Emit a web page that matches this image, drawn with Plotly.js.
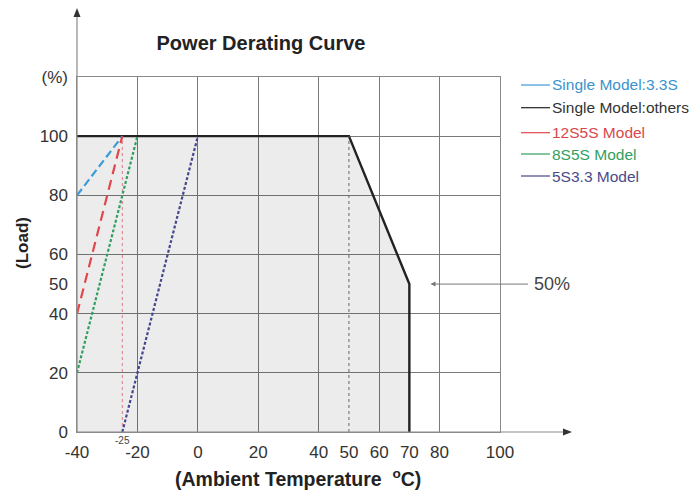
<!DOCTYPE html>
<html>
<head>
<meta charset="utf-8">
<script src="https://cdn.plot.ly/plotly-3.0.1.min.js"></script>
<style>html,body{margin:0;padding:0;background:#fff;}#chart{width:699px;height:493px;}</style>
</head>
<body>
<div id="chart"></div>
<script>
// ---- data ----
const seriesNames = ["Single Model:3.3S", "Single Model:others", "12S5S Model", "8S5S Model", "5S3.3 Model"];
const blueX = [-40, -25];       const blueY = [80, 100];
const blackX = [-40, 50, 70, 70]; const blackY = [100, 100, 50, 0];
const redX = [-40, -25];        const redY = [40, 100];
const greenX = [-40, -20];      const greenY = [20, 100];
const navyX = [-25, 0];         const navyY = [0, 100];
const refRedX = [-25, -25];     const refRedY = [0, 100];
const ref50X = [50, 50];        const ref50Y = [0, 100];
const xTickVals = [-40, -20, 0, 20, 40, 50, 60, 70, 80, 100];
const xTickText = ["-40", "-20", "0", "20", "40", "50", "60", "70", "80", "100"];
const yTickVals = [0, 20, 40, 50, 60, 80, 100, 120];
const yTickText = ["0", "20", "40", "50", "60", "80", "100", "(%)"];
const xGridVals = [-40, -20, 0, 20, 40, 60, 80, 100];
const yGridVals = [0, 20, 40, 60, 80, 100, 120];
const xRange = [-40, 100];
const yRange = [0, 120];

const FONT = "Liberation Sans, Arial, Helvetica, sans-serif";
const colors = ["#3d9bd6", "#222222", "#e0474c", "#2f9e5e", "#46468c"];
const textColors = ["#3a93cc", "#333333", "#d9474a", "#33a060", "#4a4a8a"];

const traces = [
  {x: blackX, y: blackY, mode: "lines", fill: "tozeroy", fillcolor: "rgba(0,0,0,0.075)",
   line: {color: colors[1], width: 2.4}, name: seriesNames[1], showlegend: false, hoverinfo: "skip"},
  {x: refRedX, y: refRedY, mode: "lines", line: {color: "#e07a8a", width: 1, dash: "dot"}, showlegend: false, hoverinfo: "skip"},
  {x: ref50X, y: ref50Y, mode: "lines", line: {color: "#666", width: 1, dash: "dot"}, showlegend: false, hoverinfo: "skip"},
  {x: blueX, y: blueY, mode: "lines", line: {color: colors[0], width: 2.2, dash: "8px,4px"}, name: seriesNames[0], showlegend: false},
  {x: redX, y: redY, mode: "lines", line: {color: colors[2], width: 2.2, dash: "10px,6px"}, name: seriesNames[2], showlegend: false},
  {x: greenX, y: greenY, mode: "lines", line: {color: colors[3], width: 2.2, dash: "3px,2px"}, name: seriesNames[3], showlegend: false},
  {x: navyX, y: navyY, mode: "lines", line: {color: colors[4], width: 2.2, dash: "3px,2px"}, name: seriesNames[4], showlegend: false},
  {x: [], y: [], xaxis: "x2", yaxis: "y2", showlegend: false, hoverinfo: "skip"}
];

// plot-area pixel helpers (plot area: left 77, top 77, 423 x 355)
const PL = 77, PT = 77, PW = 423, PH = 355;
const px = v => (v - PL) / PW;
const py = v => (PT + PH - v) / PH;

const annotations = [];
const shapes = [];
// axis arrows (lines + heads)
shapes.push({type: "line", xref: "paper", yref: "paper", x0: 0, x1: px(566), y0: 0, y1: 0, line: {color: "#8a8a8a", width: 1.2}});
shapes.push({type: "path", xref: "paper", yref: "paper", fillcolor: "#333", line: {width: 0},
  path: `M ${px(572)} ${py(432)} L ${px(563)} ${py(428.5)} L ${px(563)} ${py(435.5)} Z`});
shapes.push({type: "line", xref: "paper", yref: "paper", x0: 0, x1: 0, y0: 0, y1: py(14), line: {color: "#8a8a8a", width: 1.2}});
shapes.push({type: "path", xref: "paper", yref: "paper", fillcolor: "#333", line: {width: 0},
  path: `M ${px(77)} ${py(8)} L ${px(73.5)} ${py(17)} L ${px(80.5)} ${py(17)} Z`});
// 50% pointer with label
annotations.push({xref: "x", yref: "y", x: 77, y: 50, ax: 121, ay: 0, axref: "pixel", ayref: "pixel",
  text: "50%", showarrow: true, arrowhead: 2, arrowsize: 1, arrowwidth: 1, arrowcolor: "#777", standoff: 0,
  borderpad: 5, font: {family: FONT, size: 18, color: "#444"}});
// -25 label
annotations.push({xref: "x", yref: "paper", x: -25, y: py(440), text: "-25", showarrow: false,
  xanchor: "center", yanchor: "middle", font: {family: FONT, size: 10, color: "#444"}});
// axis titles
annotations.push({xref: "paper", yref: "paper", x: px(298), y: py(478), text: "(Ambient Temperature  <sup>o</sup>C)", showarrow: false,
  xanchor: "center", yanchor: "middle", font: {family: FONT, size: 19.5, color: "#222", weight: "bold"}});
annotations.push({xref: "paper", yref: "paper", x: px(22), y: py(243), text: "(Load)", textangle: -90, showarrow: false,
  xanchor: "center", yanchor: "middle", font: {family: FONT, size: 17, color: "#222", weight: "bold"}});
// legend
const legPix = [85, 107.7, 132.7, 154, 176];
seriesNames.forEach((nm, i) => {
  shapes.push({type: "line", xref: "paper", yref: "paper", x0: px(521), x1: px(550), y0: py(legPix[i]), y1: py(legPix[i]),
    line: {color: colors[i], width: 1.2}});
  annotations.push({xref: "paper", yref: "paper", x: px(550), y: py(legPix[i]), text: nm, showarrow: false,
    xanchor: "left", yanchor: "middle", font: {family: FONT, size: 15.5, color: textColors[i]}});
});

const layout = {
  width: 699, height: 493,
  margin: {l: 77, r: 199, t: 77, b: 61},
  paper_bgcolor: "#fff", plot_bgcolor: "#fff",
  showlegend: false,
  title: {text: "<b>Power Derating Curve</b>", xref: "paper", x: px(261), xanchor: "center",
    yref: "container", y: 1 - 43 / 493, yanchor: "middle", font: {family: FONT, size: 20, color: "#222"}},
  xaxis: {range: xRange, tickmode: "array", tickvals: xGridVals, showticklabels: false, ticks: "",
    showgrid: true, gridcolor: "#7a7a7a", gridwidth: 1, zeroline: false,
    showline: true, linecolor: "#8a8a8a", linewidth: 1.2, mirror: true, fixedrange: true},
  yaxis: {range: yRange, tickmode: "array", tickvals: yGridVals, showticklabels: false, ticks: "",
    showgrid: true, gridcolor: "#7a7a7a", gridwidth: 1, zeroline: false,
    showline: true, linecolor: "#8a8a8a", linewidth: 1.2, mirror: true, fixedrange: true},
  xaxis2: {overlaying: "x", side: "bottom", anchor: "y2", range: xRange, tickmode: "array", tickvals: xTickVals, ticktext: xTickText,
    showgrid: false, zeroline: false, showline: false, ticks: "", ticklabelstandoff: 8,
    tickfont: {family: FONT, size: 17, color: "#333"}, fixedrange: true},
  yaxis2: {overlaying: "y", side: "left", anchor: "x2", range: yRange, tickmode: "array", tickvals: yTickVals, ticktext: yTickText,
    showgrid: false, zeroline: false, showline: false, ticks: "", ticklabelstandoff: 8,
    tickfont: {family: FONT, size: 17, color: "#333"}, fixedrange: true},
  annotations: annotations,
  shapes: shapes
};

Plotly.newPlot("chart", traces, layout, {displayModeBar: false, staticPlot: true});
</script>
</body>
</html>
